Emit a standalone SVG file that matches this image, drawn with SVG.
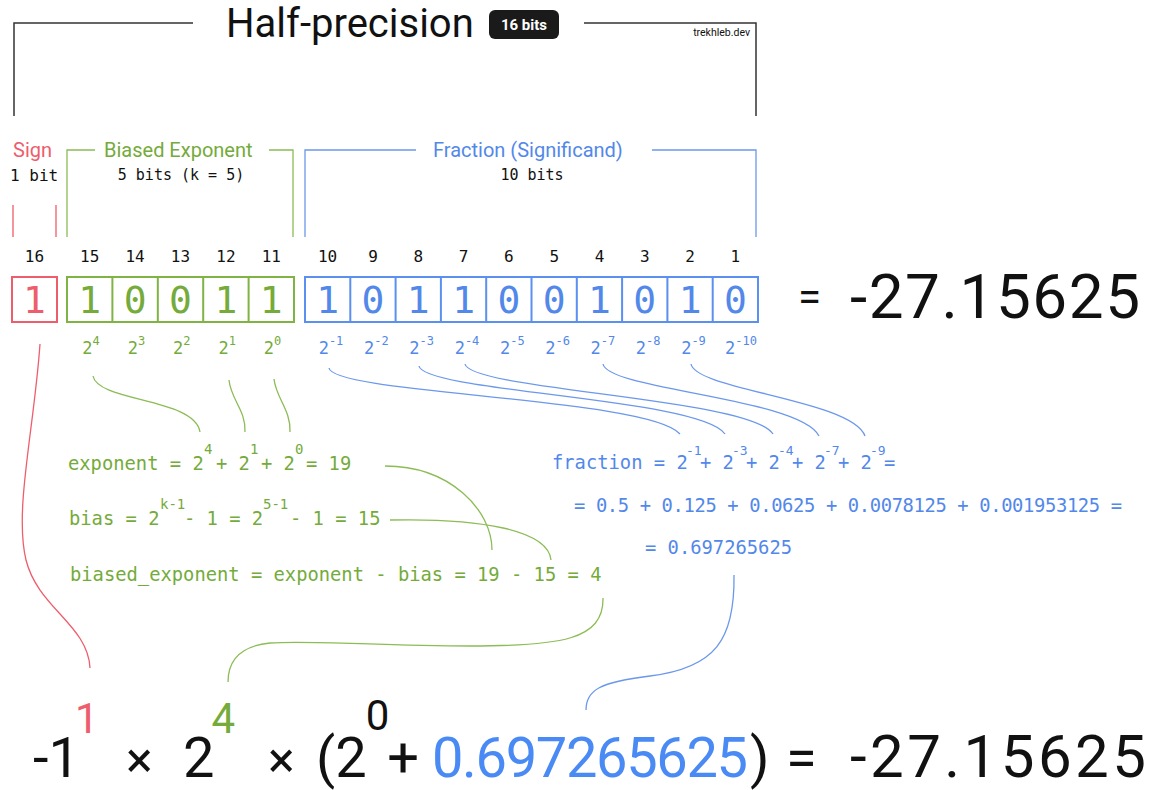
<svg xmlns="http://www.w3.org/2000/svg" width="1161" height="790" viewBox="0 0 1161 790">
<style>
.sans{font-family:Roboto,"Liberation Sans",sans-serif}
.mono{font-family:"DejaVu Sans Mono","Liberation Mono",monospace}
.k{fill:#111}
.r{fill:#ee5d6c}
.g{fill:#74ab3a}
.b{fill:#5288ea}
.bk{fill:none;stroke:#333;stroke-width:1.5}
.rs{fill:none;stroke:#ee5d6c;stroke-width:1.3}
.gs{fill:none;stroke:#8cbc55;stroke-width:1.3}
.bs{fill:none;stroke:#6b98ec;stroke-width:1.3}
.box{stroke-width:2;fill:#fff}
.num{font-size:16px;text-anchor:middle}
.dig{font-size:38px;text-anchor:middle}
.pw{font-size:17px;text-anchor:middle}
.sup{font-size:12px}
.f{font-size:18.8px}
.fs{font-size:14px}
.fs2{font-size:13px}
.big{font-size:56px}
.bsup{font-size:42px}
</style>

<g id="title">
  <path class="bk" d="M14,116 V23 H193"/>
  <path class="bk" d="M584,23 H756 V116"/>
  <text class="sans k" x="226" y="37" font-size="40">Half-precision</text>
  <rect x="489" y="10" width="70" height="29" rx="6" fill="#1a1a1a"/>
  <text class="sans" x="524" y="30" font-size="15" font-weight="bold" fill="#fff" text-anchor="middle">16 bits</text>
  <text class="sans k" x="750" y="36" font-size="10.5" text-anchor="end">trekhleb.dev</text>
</g>

<g id="sign-label">
  <text class="sans r" x="13" y="157" font-size="20">Sign</text>
  <text class="mono k" x="10" y="181" font-size="16">1 bit</text>
  <path class="rs" d="M13,205 V237 M56,205 V237"/>
</g>

<g id="exponent-label">
  <path class="gs" d="M67,237 V150 H95 M269,150 H293 V237"/>
  <text class="sans g" x="104" y="157" font-size="20">Biased Exponent</text>
  <text class="mono k" x="181" y="180" font-size="15" text-anchor="middle">5 bits (k = 5)</text>
</g>

<g id="fraction-label">
  <path class="bs" d="M305,237 V150 H416 M652,150 H756 V237"/>
  <text class="sans b" x="433" y="157" font-size="20">Fraction (Significand)</text>
  <text class="mono k" x="532" y="180" font-size="15" text-anchor="middle">10 bits</text>
</g>

<g id="bit-numbers" class="mono k">
  <text class="num" x="34.5" y="262">16</text>
  <text class="num" x="89.7" y="262">15</text>
  <text class="num" x="135.1" y="262">14</text>
  <text class="num" x="180.5" y="262">13</text>
  <text class="num" x="225.9" y="262">12</text>
  <text class="num" x="271.3" y="262">11</text>
  <text class="num" x="327.6" y="262">10</text>
  <text class="num" x="373" y="262">9</text>
  <text class="num" x="418.3" y="262">8</text>
  <text class="num" x="463.6" y="262">7</text>
  <text class="num" x="508.9" y="262">6</text>
  <text class="num" x="554.2" y="262">5</text>
  <text class="num" x="599.5" y="262">4</text>
  <text class="num" x="644.8" y="262">3</text>
  <text class="num" x="690.1" y="262">2</text>
  <text class="num" x="735.4" y="262">1</text>
</g>

<g id="sign-bit">
  <rect class="box" x="12" y="277" width="45" height="45" stroke="#ee5d6c"/>
  <text class="mono dig r" x="34.5" y="313">1</text>
</g>

<g id="exponent-bits">
  <rect class="box" x="67" y="277" width="227" height="45" stroke="#7fb344"/>
  <path d="M112.4,277 V322 M157.8,277 V322 M203.2,277 V322 M248.6,277 V322" stroke="#7fb344" stroke-width="2"/>
  <g class="mono dig g">
    <text x="89.7" y="313">1</text>
    <text x="135.1" y="313">0</text>
    <text x="180.5" y="313">0</text>
    <text x="225.9" y="313">1</text>
    <text x="271.3" y="313">1</text>
  </g>
  <g class="mono pw g">
    <text x="91" y="354">2<tspan class="sup" dy="-9">4</tspan></text>
    <text x="136.4" y="354">2<tspan class="sup" dy="-9">3</tspan></text>
    <text x="181.8" y="354">2<tspan class="sup" dy="-9">2</tspan></text>
    <text x="227.2" y="354">2<tspan class="sup" dy="-9">1</tspan></text>
    <text x="272.6" y="354">2<tspan class="sup" dy="-9">0</tspan></text>
  </g>
</g>

<g id="fraction-bits">
  <rect class="box" x="305" y="277" width="453" height="45" stroke="#5b8ff0"/>
  <path d="M350.3,277 V322 M395.6,277 V322 M440.9,277 V322 M486.2,277 V322 M531.5,277 V322 M576.8,277 V322 M622.1,277 V322 M667.4,277 V322 M712.7,277 V322" stroke="#5b8ff0" stroke-width="2"/>
  <g class="mono dig b">
    <text x="327.6" y="313">1</text>
    <text x="373" y="313">0</text>
    <text x="418.3" y="313">1</text>
    <text x="463.6" y="313">1</text>
    <text x="508.9" y="313">0</text>
    <text x="554.2" y="313">0</text>
    <text x="599.5" y="313">1</text>
    <text x="644.8" y="313">0</text>
    <text x="690.1" y="313">1</text>
    <text x="735.4" y="313">0</text>
  </g>
  <g class="mono pw b">
    <text x="331" y="354">2<tspan class="sup" dy="-9">-1</tspan></text>
    <text x="376.4" y="354">2<tspan class="sup" dy="-9">-2</tspan></text>
    <text x="421.7" y="354">2<tspan class="sup" dy="-9">-3</tspan></text>
    <text x="467" y="354">2<tspan class="sup" dy="-9">-4</tspan></text>
    <text x="512.3" y="354">2<tspan class="sup" dy="-9">-5</tspan></text>
    <text x="557.6" y="354">2<tspan class="sup" dy="-9">-6</tspan></text>
    <text x="602.9" y="354">2<tspan class="sup" dy="-9">-7</tspan></text>
    <text x="648.2" y="354">2<tspan class="sup" dy="-9">-8</tspan></text>
    <text x="693.5" y="354">2<tspan class="sup" dy="-9">-9</tspan></text>
    <text x="741" y="354">2<tspan class="sup" dy="-9">-10</tspan></text>
  </g>
</g>

<g id="value-top">
  <text class="sans k" x="798" y="311" font-size="42">=</text>
  <text class="sans k" x="850" y="318" font-size="62" textLength="290" lengthAdjust="spacing">-27.15625</text>
</g>

<g id="exponent-formula" class="mono g">
  <text class="f" x="68" y="470">exponent = 2</text>
  <text class="fs" x="204" y="454">4</text>
  <text class="f" x="216" y="470">+ 2</text>
  <text class="fs" x="250" y="454">1</text>
  <text class="f" x="261" y="470">+ 2</text>
  <text class="fs" x="295" y="454">0</text>
  <text class="f" x="306" y="470">= 19</text>
</g>

<g id="bias-formula" class="mono g">
  <text class="f" x="69" y="525">bias = 2</text>
  <text class="fs" x="160" y="509">k-1</text>
  <text class="f" x="184" y="525">- 1 = 2</text>
  <text class="fs" x="263" y="509">5-1</text>
  <text class="f" x="290" y="525">- 1 = 15</text>
</g>

<g id="biased-exponent-formula" class="mono g">
  <text class="f" x="70" y="581">biased_exponent = exponent - bias = 19 - 15 = 4</text>
</g>

<g id="fraction-formula" class="mono b">
  <text class="f" x="552" y="469">fraction = 2</text>
  <text class="fs2" x="686" y="455">-1</text>
  <text class="f" x="700" y="469">+ 2</text>
  <text class="fs2" x="732" y="455">-3</text>
  <text class="f" x="746" y="469">+ 2</text>
  <text class="fs2" x="778" y="455">-4</text>
  <text class="f" x="792" y="469">+ 2</text>
  <text class="fs2" x="824" y="455">-7</text>
  <text class="f" x="838" y="469">+ 2</text>
  <text class="fs2" x="870" y="455">-9</text>
  <text class="f" x="884" y="469">=</text>
  <text class="f" x="574" y="512" textLength="548" lengthAdjust="spacing">= 0.5 + 0.125 + 0.0625 + 0.0078125 + 0.001953125 =</text>
  <text class="f" x="645" y="554">= 0.697265625</text>
</g>

<g id="connectors">
  <path class="gs" d="M93,376 C98,402 195,398 200,432"/>
  <path class="gs" d="M229,380 C231,400 246,410 245,432"/>
  <path class="gs" d="M274,379 C276,398 291,410 290,432"/>
  <path class="bs" d="M329,368 C333,394 650,398 680,434"/>
  <path class="bs" d="M419,366 C424,392 700,398 725,434"/>
  <path class="bs" d="M465,364 C470,390 750,398 773,434"/>
  <path class="bs" d="M603,364 C608,390 800,398 819,436"/>
  <path class="bs" d="M691,364 C696,390 852,400 865,436"/>
  <path class="gs" d="M385,466 C450,466 492,510 492,550"/>
  <path class="gs" d="M390,520 C480,518 548,530 551,560"/>
  <path class="rs" d="M40,344 C34,430 14,510 26,560 C38,608 88,625 90,668"/>
  <path class="gs" d="M603,598 C604,640 560,646 470,646 C380,646 310,640 270,643 C240,646 228,660 228,682"/>
  <path class="bs" d="M734,575 C735,640 715,668 650,676 C600,682 586,690 586,710"/>
</g>

<g id="result-formula" class="sans">
  <text class="big k" x="33" y="777">-1<tspan class="bsup r" dx="-5" dy="-44">1</tspan></text>
  <text class="k" x="126" y="777" font-size="50">×</text>
  <text class="big k" x="183" y="777">2<tspan class="bsup g" dx="-3" dy="-44">4</tspan></text>
  <text class="k" x="268" y="777" font-size="50">×</text>
  <text class="big k" x="316" y="777">(2<tspan class="bsup k" dx="-1" dy="-47">0</tspan><tspan dx="-2" dy="47">+</tspan></text>
  <text class="big" x="432" y="777" fill="#4a8af4" textLength="316" lengthAdjust="spacing">0.697265625</text>
  <text class="big k" x="750" y="777">)</text>
  <text class="big k" x="786" y="777">=</text>
  <text class="k" x="850" y="777" font-size="60" textLength="296" lengthAdjust="spacing">-27.15625</text>
</g>
</svg>
